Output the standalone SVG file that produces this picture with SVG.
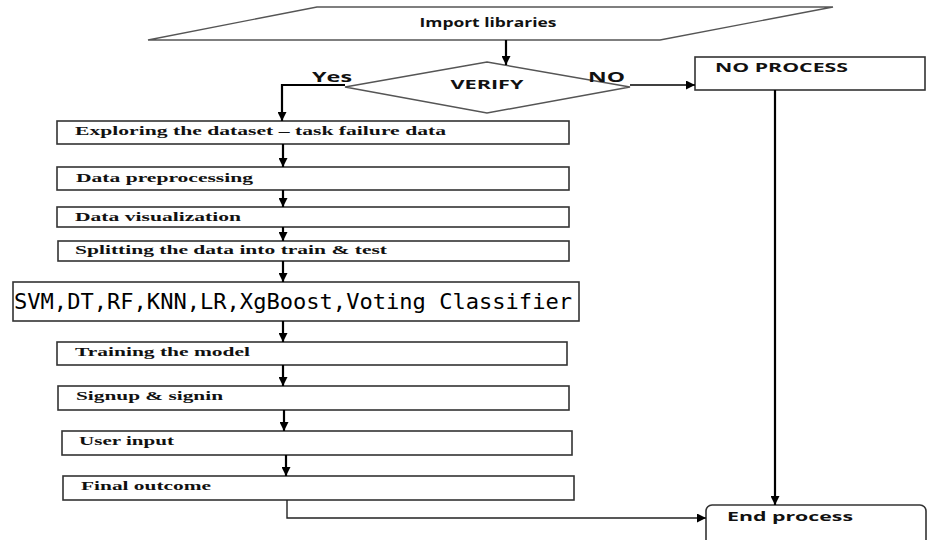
<svg xmlns="http://www.w3.org/2000/svg" width="941" height="540" viewBox="0 0 941 540">
<style>
.box{fill:#fff;stroke:#333;stroke-width:1.6}
.shape{fill:#fff;stroke:#555;stroke-width:1.4}
.lbl{font-family:"Liberation Serif",serif;font-weight:bold;font-size:13px;fill:#111}
.sans{font-family:"Open Sans","Liberation Sans",sans-serif;font-weight:bold;fill:#111}
.mono{font-family:"DejaVu Sans Mono","Liberation Mono",monospace;font-size:21px;fill:#000}
.arr{fill:none;stroke:#000;stroke-width:2.2}
.thin{fill:none;stroke:#222;stroke-width:1.4}
</style>
<defs>
<marker id="ah" markerUnits="userSpaceOnUse" viewBox="0 0 10 10" refX="10" refY="5" markerWidth="10" markerHeight="9" orient="auto">
<path d="M0,0 L10,5 L0,10 Z" fill="#000"/>
</marker>
</defs>
<rect width="941" height="540" fill="#fff"/>

<g id="import">
<polygon class="shape" points="317,7 833,7 660,40 148,40"/>
<text class="sans" x="488" y="27" font-size="12" text-anchor="middle" textLength="137" lengthAdjust="spacingAndGlyphs">Import libraries</text>
</g>

<g id="verify">
<polygon class="shape" points="487,62 630,87 487,113 345,87"/>
<text class="sans" x="487" y="89" font-size="12" text-anchor="middle" textLength="73" lengthAdjust="spacingAndGlyphs">VERIFY</text>
</g>

<g id="noprocess">
<rect class="box" x="695" y="57" width="230" height="33"/>
<text class="sans" x="715" y="72" font-size="12" textLength="133" lengthAdjust="spacingAndGlyphs">NO PROCESS</text>
</g>

<g id="explore">
<rect class="box" x="57" y="121" width="512" height="23"/>
<text class="lbl" x="75" y="135" textLength="371" lengthAdjust="spacingAndGlyphs">Exploring the dataset – task failure data</text>
</g>
<g id="preprocess">
<rect class="box" x="57" y="167" width="512" height="23"/>
<text class="lbl" x="76" y="182" textLength="177" lengthAdjust="spacingAndGlyphs">Data preprocessing</text>
</g>
<g id="visual">
<rect class="box" x="57" y="207" width="512" height="20"/>
<text class="lbl" x="75" y="221" textLength="166" lengthAdjust="spacingAndGlyphs">Data visualization</text>
</g>
<g id="split">
<rect class="box" x="58" y="241" width="511" height="20"/>
<text class="lbl" x="75" y="254" textLength="312" lengthAdjust="spacingAndGlyphs">Splitting the data into train &amp; test</text>
</g>
<g id="models">
<rect class="box" x="13" y="282" width="566" height="39"/>
<text class="mono" x="14" y="309" textLength="558" lengthAdjust="spacingAndGlyphs">SVM,DT,RF,KNN,LR,XgBoost,Voting Classifier</text>
</g>
<g id="training">
<rect class="box" x="57" y="342" width="510" height="23"/>
<text class="lbl" x="75" y="356" textLength="175" lengthAdjust="spacingAndGlyphs">Training the model</text>
</g>
<g id="signup">
<rect class="box" x="58" y="386" width="511" height="24"/>
<text class="lbl" x="76" y="400" textLength="147" lengthAdjust="spacingAndGlyphs">Signup &amp; signin</text>
</g>
<g id="userinput">
<rect class="box" x="62" y="431" width="510" height="24"/>
<text class="lbl" x="79" y="445" textLength="95" lengthAdjust="spacingAndGlyphs">User input</text>
</g>
<g id="final">
<rect class="box" x="63" y="476" width="511" height="24"/>
<text class="lbl" x="81" y="490" textLength="130" lengthAdjust="spacingAndGlyphs">Final outcome</text>
</g>
<g id="endprocess">
<rect class="box" x="706" y="505" width="220" height="45" rx="6"/>
<text class="sans" x="727" y="521" font-size="12" textLength="126" lengthAdjust="spacingAndGlyphs">End process</text>
</g>

<g id="connectors">
<line class="arr" x1="506" y1="40" x2="506" y2="65" marker-end="url(#ah)"/>
<polyline class="arr" points="345,85 282,85 282,121" marker-end="url(#ah)"/>
<line class="arr" x1="630" y1="85" x2="695" y2="85" marker-end="url(#ah)" style="stroke-width:1.6"/>
<line class="arr" x1="775" y1="90" x2="775" y2="505" marker-end="url(#ah)"/>
<line class="arr" x1="283" y1="144" x2="283" y2="167" marker-end="url(#ah)"/>
<line class="arr" x1="283" y1="190" x2="283" y2="207" marker-end="url(#ah)"/>
<line class="arr" x1="283" y1="227" x2="283" y2="241" marker-end="url(#ah)"/>
<line class="arr" x1="283" y1="261" x2="283" y2="282" marker-end="url(#ah)"/>
<line class="arr" x1="283" y1="321" x2="283" y2="342" marker-end="url(#ah)"/>
<line class="arr" x1="283" y1="365" x2="283" y2="386" marker-end="url(#ah)"/>
<line class="arr" x1="284" y1="410" x2="284" y2="431" marker-end="url(#ah)"/>
<line class="arr" x1="286" y1="455" x2="286" y2="476" marker-end="url(#ah)"/>
<polyline class="thin" points="287,500 287,518 706,518" marker-end="url(#ah)"/>
<text class="sans" x="312" y="82" font-size="15" textLength="40" lengthAdjust="spacingAndGlyphs">Yes</text>
<text class="sans" x="588" y="82" font-size="15" textLength="37" lengthAdjust="spacingAndGlyphs">NO</text>
</g>
</svg>
